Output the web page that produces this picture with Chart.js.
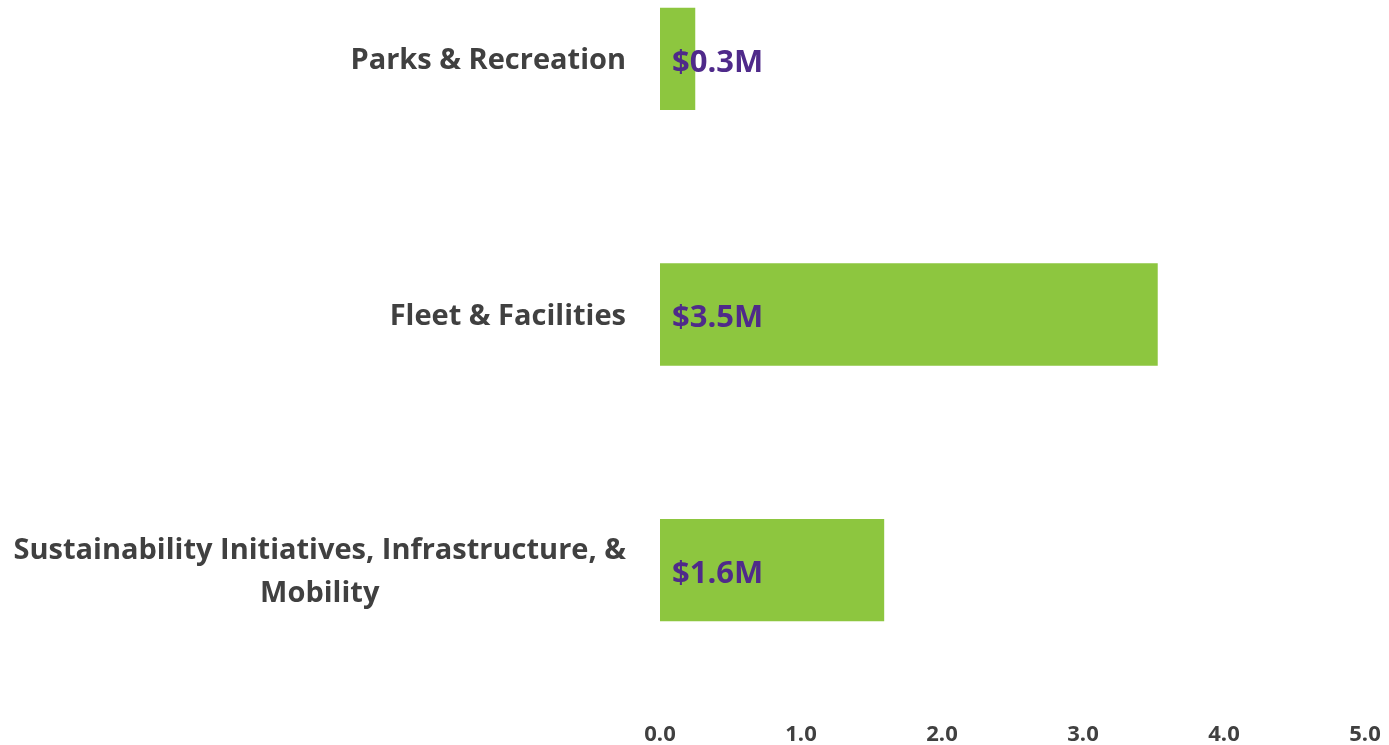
<!DOCTYPE html>
<html>
<head>
<meta charset="utf-8">
<script src="https://cdn.jsdelivr.net/npm/chart.js@4/dist/chart.umd.min.js"></script>
<style>
  html, body { margin: 0; padding: 0; background: #fff; }
  #frame { position: relative; width: 1389px; height: 745px; overflow: hidden; }
  #wrap { position: absolute; left: 0; top: -69px; width: 1389px; height: 814px; }
</style>
</head>
<body>
<div id="frame"><div id="wrap"><canvas id="c" width="1389" height="814"></canvas></div></div>
<script>
const categories = [
  ["Parks & Recreation"],
  ["Fleet & Facilities"],
  ["Sustainability Initiatives, Infrastructure, &", "Mobility"]
];
const values = [0.25, 3.53, 1.59];
const valueLabels = ["$0.3M", "$3.5M", "$1.6M"];
const xTicks = [0, 1, 2, 3, 4, 5];

const FONT = "'Open Sans', Lato, sans-serif";
const GRAY = "#404040";
const PURPLE = "#4F2A8A";
const GREEN = "#8DC63F";

const labelPlugin = {
  id: 'customLabels',
  afterDatasetsDraw(chart) {
    const ctx = chart.ctx;
    const meta = chart.getDatasetMeta(0);
    const yScale = chart.scales.y;
    const xScale = chart.scales.x;
    const area = chart.chartArea;
    ctx.save();
    ctx.font = "bold 31px " + FONT;
    ctx.fillStyle = PURPLE;
    ctx.textAlign = "left";
    ctx.textBaseline = "middle";
    meta.data.forEach((bar, i) => {
      ctx.fillText(valueLabels[i], xScale.getPixelForValue(0) + 12, bar.y + 4);
    });
    ctx.font = "bold 29px " + FONT;
    ctx.fillStyle = GRAY;
    ctx.textAlign = "center";
    const lineH = 43;
    const right = area.left - 34;
    categories.forEach((lines, i) => {
      const cy = yScale.getPixelForValue(i) + 2;
      const w = Math.max(...lines.map(l => ctx.measureText(l).width));
      const cx = right - w / 2;
      const startY = cy - (lines.length - 1) * lineH / 2;
      lines.forEach((l, j) => ctx.fillText(l, cx, startY + j * lineH));
    });
    ctx.restore();
  }
};

new Chart(document.getElementById('c'), {
  type: 'bar',
  data: {
    labels: categories.map(c => c.join(' ')),
    datasets: [{
      data: values,
      backgroundColor: GREEN,
      borderWidth: 0,
      categoryPercentage: 1.0,
      barPercentage: 0.4
    }]
  },
  options: {
    indexAxis: 'y',
    responsive: false,
    animation: false,
    layout: { padding: { left: 0, right: 0, top: 0, bottom: 0 } },
    plugins: { legend: { display: false }, tooltip: { enabled: false } },
    scales: {
      x: {
        min: 0, max: 5,
        afterBuildTicks(scale) { scale.ticks = xTicks.map(v => ({ value: v })); },
        afterFit(scale) { scale.height = 47; scale.paddingRight = 24; scale.paddingLeft = 0; },
        grid: { display: false, drawTicks: false },
        border: { display: false },
        ticks: {
          padding: 24,
          color: GRAY,
          font: { family: FONT, size: 22, weight: 'bold' },
          callback: v => Number(v).toFixed(1)
        }
      },
      y: {
        afterFit(scale) { scale.width = 660; },
        grid: { display: false, drawTicks: false },
        border: { display: false },
        ticks: { display: false }
      }
    }
  },
  plugins: [labelPlugin]
});
</script>
</body>
</html>
